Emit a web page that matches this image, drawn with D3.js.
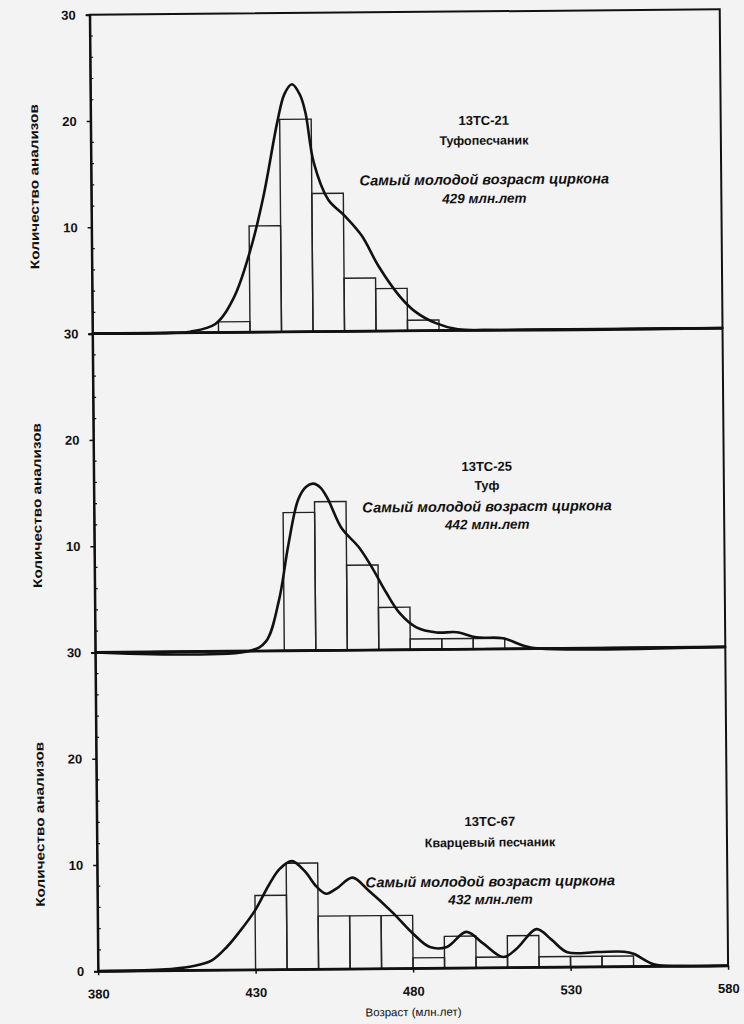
<!DOCTYPE html>
<html>
<head>
<meta charset="utf-8">
<script src="https://cdn.jsdelivr.net/npm/d3@7/dist/d3.min.js"></script>
<style>
  html, body { margin: 0; padding: 0; background: #f3f3f3; }
  svg { display: block; }
  text { font-family: "Liberation Sans", Arial, sans-serif; fill: #111; }
</style>
</head>
<body>
<div id="chart"></div>
<script>
// ---------- DATA ----------
const xTickValues = [380, 430, 480, 530, 580];
const yTickValues = [0, 10, 20, 30];
const binWidth = 10;

const sampleIds   = ["13TC-21", "13TC-25", "13TC-67"];
const rockNames   = ["Туфопесчаник", "Туф", "Кварцевый песчаник"];
const youngestAge = ["429 млн.лет", "442 млн.лет", "432 млн.лет"];
const youngestLabel = "Самый молодой возраст циркона";
const yTitle = "Количество анализов";
const xTitle = "Возраст (млн.лет)";

// histogram bins (start age of first bin, counts per 10 Ma bin)
const binStart1 = 420;
const counts1 = [1, 10, 20, 13, 5, 4, 1];
const binStart2 = 440;
const counts2 = [13, 14, 8, 4, 1, 1, 1];
const binStart3 = 430;
const counts3 = [7, 10, 5, 5, 5, 1, 3, 1, 3, 1, 1, 1];

// probability density curves (age, scaled value)
const curveAge1 = [380, 405, 411, 419, 425, 430.6, 434.8, 439.2, 441.6, 444, 446.5, 448.2, 450.7, 455.2, 460.3, 465.7, 471, 477.5, 482.5, 489, 496, 505, 580];
const curveVal1 = [0, 0, 0.1, 0.8, 3.3, 8, 13, 19.7, 22.4, 23.3, 22.3, 20.6, 15.9, 12.4, 10.9, 9, 6.1, 3.3, 1.8, 0.7, 0.1, 0, 0];

const curveAge2 = [380, 429, 434.2, 438.4, 441.6, 444.8, 447.3, 449.6, 452, 454.3, 458.5, 463.9, 468, 472.5, 476.6, 482, 488.4, 494.8, 501, 509.4, 515.8, 521, 580];
const curveVal2 = [0, 0, 0.9, 4.7, 10, 14.2, 15.4, 15.7, 15.3, 14.2, 11.5, 9.7, 7.8, 5.4, 3.5, 2.1, 1.6, 1.6, 1.1, 1.0, 0.3, 0, 0];

const curveAge3 = [380, 400, 410, 416, 421, 425, 430, 434.5, 438, 441.8, 446, 449.5, 452.6, 456, 461, 466, 473.6, 480, 485.4, 490.8, 497, 502.3, 508.7, 513, 519.3, 524, 529, 538.6, 547, 550, 556.4, 565, 580];
const curveVal3 = [0, 0.1, 0.4, 0.9, 2.2, 3.6, 5.6, 8, 9.5, 10.2, 9.2, 7.8, 7.1, 7.6, 8.6, 7.4, 5.3, 3.3, 2, 2, 3.4, 2.3, 1.0, 1.8, 3.6, 2.6, 1.4, 1.4, 1.4, 1.2, 0.2, 0, 0];

// ---------- BUILD ----------
const panels = [
  {start: binStart1, counts: counts1, ages: curveAge1, vals: curveVal1},
  {start: binStart2, counts: counts2, ages: curveAge2, vals: curveVal2},
  {start: binStart3, counts: counts3, ages: curveAge3, vals: curveVal3}
];

const W = 744, H = 1024;
const left = 94, right = 724, plotTop = 12, plotBottom = 968.5;
const panelH = (plotBottom - plotTop) / 3;

const svg = d3.select("#chart").append("svg").attr("width", W).attr("height", H);
svg.append("rect").attr("width", W).attr("height", H).attr("fill", "#f3f3f3");

const root = svg.append("g").attr("transform", "rotate(-0.5 410 500)");

const x = d3.scaleLinear().domain([380, 580]).range([left, right]);
const textX = 487;

panels.forEach((p, i) => {
  const y0 = plotTop + i * panelH;
  const y = d3.scaleLinear().domain([0, 30]).range([y0 + panelH, y0]);
  const g = root.append("g");

  // histogram bars
  const bins = p.counts.map((c, k) => ({x0: p.start + k * binWidth, x1: p.start + (k + 1) * binWidth, c}));
  g.selectAll("rect.bar").data(bins).enter().append("rect")
    .attr("class", "bar")
    .attr("x", d => x(d.x0))
    .attr("y", d => y(d.c))
    .attr("width", d => x(d.x1) - x(d.x0))
    .attr("height", d => y(0) - y(d.c))
    .attr("fill", "none")
    .attr("stroke", "#222")
    .attr("stroke-width", 1.4);

  // density curve
  const pts = p.ages.map((a, k) => [a, p.vals[k]]);
  const line = d3.line().x(d => x(d[0])).y(d => Math.min(y(d[1]), y(0))).curve(d3.curveCatmullRom.alpha(0.5));
  g.append("path").datum(pts)
    .attr("d", line)
    .attr("fill", "none")
    .attr("stroke", "#111")
    .attr("stroke-width", 2.6)
    .attr("stroke-linejoin", "round");

  // frame
  g.append("rect")
    .attr("x", left).attr("y", y0)
    .attr("width", right - left).attr("height", panelH)
    .attr("fill", "none").attr("stroke", "#111").attr("stroke-width", 2);
  g.append("line")
    .attr("x1", left).attr("x2", right)
    .attr("y1", y(0)).attr("y2", y(0))
    .attr("stroke", "#111").attr("stroke-width", 2.8);

  // y axis
  const yAxis = d3.axisLeft(y).tickValues(yTickValues).tickSize(4).tickPadding(10)
    .tickFormat(d => (d === 0 && i < 2) ? "" : d);
  const ya = g.append("g").attr("transform", `translate(${left},0)`).call(yAxis);
  ya.select(".domain").attr("stroke", "#111").attr("stroke-width", 2);
  ya.selectAll(".tick line").attr("stroke", "#111").attr("stroke-width", 1.5);
  ya.selectAll(".tick text").attr("font-size", 13).attr("font-weight", "bold").attr("fill", "#111")
    .style("font-family", "'Liberation Sans', Arial, sans-serif");

  // minor ticks
  const minor = d3.range(2, 30, 2).filter(v => v % 10 !== 0);
  g.selectAll("line.minor").data(minor).enter().append("line")
    .attr("x1", left).attr("x2", left + 3)
    .attr("y1", d => y(d)).attr("y2", d => y(d))
    .attr("stroke", "#111").attr("stroke-width", 1.2);

  // y title
  g.append("text")
    .attr("transform", `translate(38,${y0 + panelH / 2 + 12}) rotate(-90)`)
    .attr("text-anchor", "middle")
    .attr("dominant-baseline", "middle")
    .attr("font-size", 12.5).attr("font-weight", "bold")
    .attr("textLength", 165).attr("lengthAdjust", "spacingAndGlyphs")
    .text(yTitle);

  // annotations
  const annY = [[121, 141, 180, 199], [467, 486, 507, 525], [822, 843, 882, 900]][i];
  const ann = g.append("g").attr("text-anchor", "middle").attr("font-weight", "bold");
  ann.append("text").attr("x", textX).attr("y", annY[0]).attr("dy", "0.35em").attr("font-size", 13).text(sampleIds[i]);
  ann.append("text").attr("x", textX).attr("y", annY[1]).attr("dy", "0.35em").attr("font-size", 12.5).text(rockNames[i]);
  ann.append("text").attr("x", textX).attr("y", annY[2]).attr("dy", "0.35em").attr("font-size", 14.5)
    .attr("font-style", "italic").text(youngestLabel);
  ann.append("text").attr("x", textX).attr("y", annY[3]).attr("dy", "0.35em").attr("font-size", 13.5)
    .attr("font-style", "italic").text(youngestAge[i]);

  if (i === 2) {
    const xAxis = d3.axisBottom(x).tickValues(xTickValues).tickSize(4).tickPadding(14);
    const xa = g.append("g").attr("transform", `translate(0,${y(0)})`).call(xAxis);
    xa.select(".domain").remove();
    xa.selectAll(".tick line").attr("stroke", "#111").attr("stroke-width", 1.5);
    xa.selectAll(".tick text").attr("font-size", 13).attr("font-weight", "bold").attr("fill", "#111")
      .style("font-family", "'Liberation Sans', Arial, sans-serif");
    g.append("text")
      .attr("x", x(480)).attr("y", 1013)
      .attr("text-anchor", "middle").attr("dominant-baseline", "middle")
      .attr("font-size", 11.5)
      .text(xTitle);
  }
});
</script>
</body>
</html>
